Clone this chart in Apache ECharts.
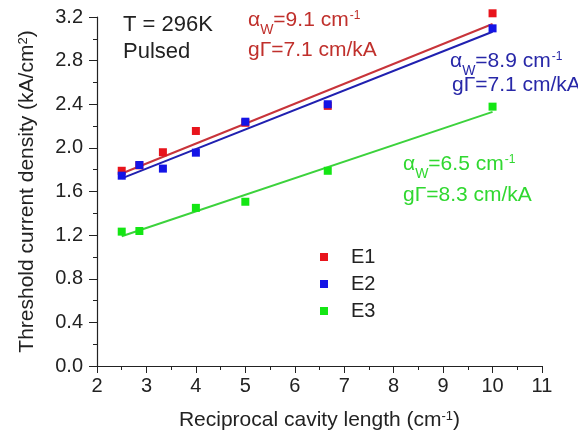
<!DOCTYPE html>
<html lang="en">

<head>
    <meta charset="UTF-8">
    <title>Threshold current density</title>
    <script src="https://cdn.jsdelivr.net/npm/echarts@6/dist/echarts.min.js"></script>
    <style>
        html, body { margin: 0; padding: 0; background: #fff; }
    </style>
</head>

<body>
<div id="main" style="width: 578px; height: 430px;"></div>
<script>
    // reciprocal cavity length (cm^-1)
    const xE12 = [2.5, 2.857, 3.333, 4, 5, 6.667, 10]
    const xE3 = [2.5, 2.857, 4, 5, 6.667, 10]
    // threshold current density (kA/cm^2)
    const e1Values = [1.79, 1.84, 1.96, 2.155, 2.23, 2.385, 3.234]
    const e2Values = [1.745, 1.843, 1.81, 1.956, 2.24, 2.40, 3.096]
    const e3Values = [1.232, 1.238, 1.45, 1.506, 1.79, 2.378]
    // linear fits, read at both ends
    const fitX = [2.5, 10]
    const e1Fit = [1.765, 3.136]
    const e2Fit = [1.72, 3.065]
    const e3Fit = [1.19, 2.33]

    const font = 'Liberation Sans, Arial, sans-serif'
    const colors = { red: '#e8141c', blue: '#1414e6', green: '#14e614' }
    const lineColors = { red: '#c8343a', blue: '#2020b0', green: '#3cd23c' }
    const textColors = { red: '#c0302c', blue: '#2828a8', green: '#30d830' }

    function pairs(xs, ys) {
        return xs.map((x, i) => [x, ys[i]])
    }

    // annotation text, y is the middle of the digits
    function label(x, y, color, text, size) {
        return {
            type: 'text',
            x: x,
            y: y,
            style: {
                text: text,
                fill: color,
                verticalAlign: 'middle',
                rich: {
                    n: { fontSize: size || 21, fontFamily: font, fill: color, lineHeight: 34, verticalAlign: 'middle' },
                    s: { fontSize: 14, fontFamily: font, fill: color, lineHeight: 14, verticalAlign: 'bottom' },
                    p: { fontSize: 12, fontFamily: font, fill: color, lineHeight: 12, verticalAlign: 'middle', padding: [0, 0, 10, 1] }
                }
            }
        }
    }

    const chart = echarts.init(document.getElementById('main'))
    chart.setOption({
        animation: false,
        backgroundColor: '#fff',
        textStyle: { fontFamily: font, color: '#222' },
        grid: { left: 97, right: 36, top: 17, bottom: 64, containLabel: false, outerBoundsMode: 'none' },
        xAxis: {
            type: 'value',
            min: 2,
            max: 11,
            interval: 1,
            splitLine: { show: false },
            axisLine: { onZero: false, lineStyle: { color: '#222', width: 1.2 } },
            axisTick: { length: 7, lineStyle: { color: '#222' } },
            minorTick: { show: true, splitNumber: 2, length: 4, lineStyle: { color: '#222' } },
            axisLabel: { fontSize: 20, color: '#222', margin: 10 },
            name: 'Reciprocal cavity length (cm{sup|-1})',
            nameLocation: 'middle',
            nameGap: 44,
            nameTextStyle: {
                fontSize: 21,
                color: '#222',
                rich: { sup: { fontSize: 13, verticalAlign: 'top', padding: [0, 0, 8, 0] } }
            }
        },
        yAxis: {
            type: 'value',
            min: 0,
            max: 3.2,
            interval: 0.4,
            splitLine: { show: false },
            axisLine: { show: true, lineStyle: { color: '#222', width: 1.2 } },
            axisTick: { show: true, length: 8, lineStyle: { color: '#222' } },
            minorTick: { show: true, splitNumber: 2, length: 4, lineStyle: { color: '#222' } },
            axisLabel: { fontSize: 20, color: '#222', margin: 14, formatter: v => v.toFixed(1) },
            name: 'Threshold current density (kA/cm{sup|2})',
            nameLocation: 'middle',
            nameGap: 59,
            nameTextStyle: {
                fontSize: 21,
                color: '#222',
                rich: { sup: { fontSize: 13, verticalAlign: 'top', padding: [0, 0, 8, 0] } }
            }
        },
        legend: {
            data: ['E1', 'E2', 'E3'],
            orient: 'vertical',
            left: 315,
            top: 242,
            icon: 'rect',
            itemWidth: 8,
            itemHeight: 8,
            itemGap: 7,
            textStyle: { fontSize: 20, color: '#222', padding: [0, 0, 0, 18] }
        },
        series: [
            {
                name: 'E1 fit', type: 'line', data: pairs(fitX, e1Fit), symbol: 'none', clip: false,
                lineStyle: { color: lineColors.red, width: 2 }, z: 2
            },
            {
                name: 'E2 fit', type: 'line', data: pairs(fitX, e2Fit), symbol: 'none', clip: false,
                lineStyle: { color: lineColors.blue, width: 2 }, z: 2
            },
            {
                name: 'E3 fit', type: 'line', data: pairs(fitX, e3Fit), symbol: 'none', clip: false,
                lineStyle: { color: lineColors.green, width: 2 }, z: 2
            },
            {
                name: 'E1', type: 'scatter', data: pairs(xE12, e1Values), symbol: 'rect', symbolSize: 8, clip: false,
                itemStyle: { color: colors.red, opacity: 1 }, z: 3
            },
            {
                name: 'E2', type: 'scatter', data: pairs(xE12, e2Values), symbol: 'rect', symbolSize: 8, clip: false,
                itemStyle: { color: colors.blue, opacity: 1 }, z: 4
            },
            {
                name: 'E3', type: 'scatter', data: pairs(xE3, e3Values), symbol: 'rect', symbolSize: 8, clip: false,
                itemStyle: { color: colors.green, opacity: 1 }, z: 4
            }
        ],
        graphic: [
            label(123, 25, '#222', '{n|T = 296K}', 22),
            label(123, 51.5, '#222', '{n|Pulsed}', 22),
            label(248, 20.5, textColors.red, '{n|α}{s|W}{n|=9.1 cm}{p|-1}'),
            label(248, 50.5, textColors.red, '{n|gΓ=7.1 cm/kA}'),
            label(450, 61.5, textColors.blue, '{n|α}{s|W}{n|=8.9 cm}{p|-1}'),
            label(452, 85.5, textColors.blue, '{n|gΓ=7.1 cm/kA}'),
            label(403, 164.5, textColors.green, '{n|α}{s|W}{n|=6.5 cm}{p|-1}'),
            label(403, 195.5, textColors.green, '{n|gΓ=8.3 cm/kA}')
        ]
    })
</script>
</body>

</html>
